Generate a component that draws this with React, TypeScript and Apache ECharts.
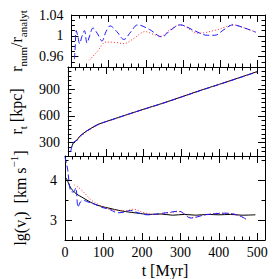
import React, { useEffect, useRef } from 'react';
import * as echarts from 'echarts';

// ---------- data ----------
// top panel: r_num / r_analyt
const ratioBlueT = [8, 10, 13, 17, 22, 28, 35, 42, 49, 58, 70, 82, 93, 104, 122, 141, 160, 178, 210, 243, 265, 292, 330, 365, 385, 410, 434, 465, 495];
const ratioBlueV = [0.955, 0.975, 1.010, 1.000, 0.985, 0.998, 1.010, 0.986, 1.000, 1.015, 1.004, 0.990, 1.008, 1.019, 1.008, 0.993, 1.008, 1.021, 1.012, 0.998, 1.010, 1.021, 1.010, 1.001, 1.001, 1.012, 1.021, 1.015, 1.007];
const ratioRedT = [48, 70, 93, 120, 141, 166, 198, 220, 239, 265, 292, 341, 393, 417, 434, 465, 495];
const ratioRedV = [0.953, 0.970, 0.988, 0.987, 0.985, 0.994, 1.008, 1.003, 0.999, 1.012, 1.021, 1.005, 1.012, 1.018, 1.021, 1.015, 1.007];

// middle panel: r_t [kpc]
const rtBlueT = [7, 9, 11, 15, 24, 30, 40, 50, 60, 80, 100, 117, 160, 198, 250, 300, 349, 400, 450, 499];
const rtBlueV = [195, 230, 270, 305, 327, 365, 400, 432, 458, 505, 535, 559, 620, 672, 742, 813, 884, 955, 1025, 1095];
const rtBlackT = [10, 15, 24, 30, 40, 50, 60, 80, 100, 117, 160, 198, 250, 300, 349, 400, 450, 499];
const rtBlackV = [250, 300, 330, 366, 402, 433, 459, 506, 536, 560, 621, 673, 743, 815, 886, 957, 1027, 1098];
const rtRedT = [24, 30, 40, 50, 60, 80, 100, 117, 160, 198, 250, 300, 349, 400, 450, 495];
const rtRedV = [318, 355, 390, 422, 450, 499, 531, 556, 618, 670, 741, 813, 885, 955, 1026, 1090];

// bottom panel: lg(v_t) [km s^-1]
const vBlueT = [0, 4, 7, 10, 15, 22, 28, 34, 40, 48, 60, 76, 95, 117, 137, 155, 170, 190, 215, 239, 270, 296, 328, 365, 418, 450, 471];
const vBlueV = [4.58, 4.40, 4.26, 4.00, 3.72, 3.70, 3.80, 3.32, 3.45, 3.49, 3.45, 3.40, 3.32, 3.26, 3.18, 3.20, 3.24, 3.18, 3.13, 3.15, 3.19, 3.22, 3.05, 3.13, 3.17, 3.12, 3.02];
const vBlackT = [3, 7, 12, 20, 30, 44, 60, 76, 95, 117, 140, 158, 190, 220, 250, 280, 310, 340, 370, 400, 430, 460, 495];
const vBlackV = [4.05, 3.97, 3.85, 3.74, 3.65, 3.57, 3.48, 3.40, 3.34, 3.29, 3.24, 3.21, 3.17, 3.14, 3.15, 3.12, 3.14, 3.12, 3.14, 3.13, 3.14, 3.12, 3.13];
const vRedT = [24, 34, 44, 56, 68, 85, 109, 135, 158, 178, 200, 230, 260, 296, 328, 365, 400, 440, 475];
const vRedV = [3.88, 3.82, 3.74, 3.62, 3.50, 3.40, 3.29, 3.24, 3.23, 3.27, 3.20, 3.14, 3.17, 3.21, 3.06, 3.13, 3.17, 3.15, 2.99];

// axes
const tRange = [0, 520];
const ratioRange = [0.94, 1.04];
const ratioMajor = [0.96, 1, 1.04];
const rtRange = [150, 1150];
const rtMajor = [300, 600, 900];
const vRange = [2.5, 4.6];
const vMajor = [3, 4];

const FONT = '"Liberation Serif", "DejaVu Serif", serif';
const BLACK = '#000';
const BLUE = '#1a1aff';
const RED = '#ff2a2a';

const zip = (t: number[], v: number[]) => t.map((x, i) => [x, v[i]]);

function xAxes(gridIndex: number, labels: boolean) {
  const base = (position: string, show: boolean) => ({
    type: 'value',
    gridIndex,
    position,
    min: tRange[0],
    max: tRange[1],
    interval: 100,
    axisLine: { show: true, onZero: false, lineStyle: { color: BLACK, width: 1 } },
    axisTick: { show: true, inside: true, length: 7, lineStyle: { color: BLACK, width: 1 } },
    minorTick: { show: true, splitNumber: 5, length: 3.5, lineStyle: { color: BLACK, width: 1 } },
    axisLabel: {
      show,
      margin: 5,
      fontFamily: FONT,
      fontSize: 14,
      color: BLACK,
      formatter: (v: number) => (v % 100 === 0 ? String(v) : ''),
    },
    splitLine: { show: false },
    ...(show
      ? {
          name: 't [Myr]',
          nameLocation: 'middle',
          nameGap: 22,
          nameTextStyle: { fontFamily: FONT, fontSize: 16, color: BLACK },
        }
      : {}),
  });
  return [base('bottom', labels), base('top', false)];
}

function yAxes(
  gridIndex: number,
  range: number[],
  minorInterval: number,
  majors: number[],
  name: string,
  rich: any,
  nameGap: number
) {
  const minor = (position: string) => ({
    type: 'value',
    gridIndex,
    position,
    min: range[0],
    max: range[1],
    interval: minorInterval,
    axisLine: { show: true, onZero: false, lineStyle: { color: BLACK, width: 1 } },
    axisTick: { show: true, inside: true, length: 3.5, lineStyle: { color: BLACK, width: 1 } },
    axisLabel: { show: false },
    splitLine: { show: false },
  });
  const major = (position: string, labels: boolean) => ({
    type: 'value',
    gridIndex,
    position,
    min: range[0],
    max: range[1],
    axisLine: { show: false, onZero: false },
    axisTick: { show: true, inside: true, length: 7, customValues: majors, lineStyle: { color: BLACK, width: 1 } },
    axisLabel: {
      show: labels,
      customValues: majors,
      margin: 8,
      fontFamily: FONT,
      fontSize: 14,
      color: BLACK,
    },
    splitLine: { show: false },
    ...(labels
      ? {
          name,
          nameLocation: 'middle',
          nameRotate: 90,
          nameGap,
          nameTextStyle: { fontFamily: FONT, fontSize: 16, color: BLACK, rich },
        }
      : {}),
  });
  return [minor('left'), major('left', true), minor('right'), major('right', false)];
}

const mainStyle = { fontFamily: FONT, fontSize: 16, color: BLACK, lineHeight: 24, verticalAlign: 'middle' };
const subStyle = { fontFamily: FONT, fontSize: 11, color: BLACK, lineHeight: 11, verticalAlign: 'bottom' };
const supStyle = { fontFamily: FONT, fontSize: 11, color: BLACK, lineHeight: 11, verticalAlign: 'top' };
const RICH = { a: mainStyle, s: subStyle, p: supStyle };

function line(data: number[][], grid: number, color: string, type: any) {
  return {
    type: 'line',
    xAxisIndex: grid * 2,
    yAxisIndex: grid * 4,
    data,
    symbol: 'none',
    showSymbol: false,
    smooth: 0.35,
    lineStyle: { color, width: 1, type },
    z: 3,
  };
}

export default function App() {
  const ref = useRef<HTMLDivElement>(null);
  useEffect(() => {
    if (!ref.current) return;
    const chart = echarts.init(ref.current, undefined, { renderer: 'svg' });
    const option: any = {
      animation: false,
      backgroundColor: '#fff',
      grid: [
        { left: 52, right: 14, top: 15, height: 52 },
        { left: 52, right: 14, top: 67, height: 89 },
        { left: 52, right: 14, top: 156, height: 89 },
      ],
      xAxis: [...xAxes(0, false), ...xAxes(1, false), ...xAxes(2, true)],
      yAxis: [
        ...yAxes(0, ratioRange, 0.01, ratioMajor, '{a|r}{s|num}{a|/r}{s|analyt}', RICH, 33),
        ...yAxes(1, rtRange, 50, rtMajor, '{a|r}{s|t}{a| [kpc]}', RICH, 33),
        ...yAxes(2, vRange, 0.5, vMajor, '{a|lg(v}{s|t}{a|)  [km s}{p|−1}{a|]}', RICH, 33),
      ],
      series: [
        line(zip(ratioRedT, ratioRedV), 0, RED, [1, 2]),
        line(zip(ratioBlueT, ratioBlueV), 0, BLUE, [6, 3]),
        line(zip(rtBlackT, rtBlackV), 1, BLACK, 'solid'),
        line(zip(rtRedT, rtRedV), 1, RED, [1, 2]),
        line(zip(rtBlueT, rtBlueV), 1, BLUE, [6, 3]),
        line(zip(vBlackT, vBlackV), 2, BLACK, 'solid'),
        line(zip(vRedT, vRedV), 2, RED, [1, 2]),
        line(zip(vBlueT, vBlueV), 2, BLUE, [6, 3]),
      ],
    };
    chart.setOption(option);
    return () => chart.dispose();
  }, []);
  return (
    <div
      ref={ref}
      style={{ position: 'absolute', left: 0, top: 0, width: 279, height: 279, background: '#fff' }}
    />
  );
}
